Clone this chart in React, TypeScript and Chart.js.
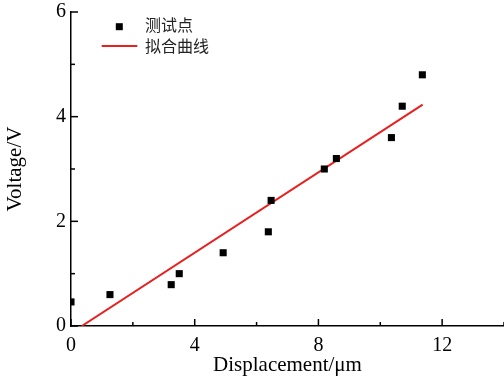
import React, { useEffect, useRef } from "react";
import { Chart, registerables } from "chart.js";

Chart.register(...registerables);

const measuredX = [0, 1.26, 3.24, 3.5, 4.92, 6.38, 6.47, 8.19, 8.58, 10.36, 10.71, 11.36];
const measuredY = [0.46, 0.6, 0.79, 1.0, 1.4, 1.8, 2.4, 3.0, 3.2, 3.6, 4.2, 4.8];
const fitX = [0.35, 11.37];
const fitY = [0, 4.23];
const legendLabels = ["测试点", "拟合曲线"];
const xTitle = "Displacement/μm";
const yTitle = "Voltage/V";

const SERIF = "'Liberation Serif', 'Times New Roman', serif";

const innerTicks = {
  id: "innerTicks",
  afterDraw(chart: any) {
    const { ctx, chartArea, scales } = chart;
    ctx.save();
    ctx.strokeStyle = "#000";
    ctx.lineWidth = 1.5;
    const xs = scales.x;
    for (let v = 0; v <= 14; v += 2) {
      const px = xs.getPixelForValue(v);
      const len = v % 4 === 0 ? 7 : 4;
      ctx.beginPath();
      ctx.moveTo(px, chartArea.bottom);
      ctx.lineTo(px, chartArea.bottom - len);
      ctx.stroke();
    }
    const ys = scales.y;
    for (let v = 0; v <= 6; v += 1) {
      const py = ys.getPixelForValue(v);
      const len = v % 2 === 0 ? 7 : 4;
      ctx.beginPath();
      ctx.moveTo(chartArea.left, py);
      ctx.lineTo(chartArea.left + len, py);
      ctx.stroke();
    }
    // legend
    ctx.fillStyle = "#000";
    ctx.fillRect(119.3 - 3.5, 26.7 - 3.5, 7, 7);
    ctx.strokeStyle = "#e8201f";
    ctx.lineWidth = 2;
    ctx.beginPath();
    ctx.moveTo(101.7, 46);
    ctx.lineTo(137.3, 46);
    ctx.stroke();
    ctx.fillStyle = "#222";
    ctx.font = "16px 'Noto Sans CJK SC'";
    ctx.textBaseline = "middle";
    ctx.textAlign = "left";
    ctx.fillText(legendLabels[0], 145, 25);
    ctx.fillText(legendLabels[1], 145, 46);
    ctx.restore();
  },
};

export default function App() {
  const ref = useRef<HTMLCanvasElement>(null);
  useEffect(() => {
    document.body.style.margin = "0";
    document.body.style.overflow = "hidden";
    const chart = new Chart(ref.current!, {
      type: "scatter",
      data: {
        datasets: [
          {
            label: legendLabels[0],
            data: measuredX.map((x, i) => ({ x, y: measuredY[i] })),
            pointStyle: "rect",
            pointRadius: 5,
            pointBorderWidth: 0,
            backgroundColor: "#000",
            borderColor: "#000",
          },
          {
            label: legendLabels[1],
            data: fitX.map((x, i) => ({ x, y: fitY[i] })),
            showLine: true,
            pointRadius: 0,
            borderColor: "#e8201f",
            borderWidth: 2,
          },
        ],
      },
      options: {
        animation: false,
        responsive: false,
        layout: { padding: { top: 12, right: 0, left: 0, bottom: 0 } },
        plugins: { legend: { display: false }, tooltip: { enabled: false } },
        scales: {
          x: {
            type: "linear",
            min: 0,
            max: 14,
            grid: { display: false, drawTicks: false },
            border: { display: true, color: "#000", width: 1.5 },
            ticks: {
              stepSize: 2,
              autoSkip: false,
              maxRotation: 0,
              padding: 8,
              color: "#000",
              font: { family: SERIF, size: 20 },
              callback: (v: any) => (v % 4 === 0 && v < 14 ? String(v) : ""),
            },
            title: {
              display: true,
              text: xTitle,
              color: "#000",
              font: { family: SERIF, size: 21 },
              padding: { top: 0, bottom: 3 },
            },
            afterFit: (s: any) => {
              s.height = 55;
              s.paddingLeft = 0;
              s.paddingRight = 0;
            },
          },
          y: {
            type: "linear",
            min: 0,
            max: 6,
            grid: { display: false, drawTicks: false },
            border: { display: true, color: "#000", width: 1.5 },
            ticks: {
              stepSize: 1,
              autoSkip: false,
              padding: 5,
              color: "#000",
              font: { family: SERIF, size: 20 },
              callback: (v: any) => (v % 2 === 0 ? String(v) : ""),
            },
            title: {
              display: true,
              text: yTitle,
              color: "#000",
              font: { family: SERIF, size: 21 },
              padding: { top: 3, bottom: 0 },
            },
            afterFit: (s: any) => {
              s.width = 71;
              s.paddingTop = 0;
              s.paddingBottom = 0;
            },
          },
        },
      },
      plugins: [innerTicks],
    });
    return () => chart.destroy();
  }, []);
  return (
    <div style={{ position: "absolute", left: 0, top: 0, width: 504, height: 381, overflow: "hidden" }}>
      <canvas ref={ref} width={509} height={381} style={{ display: "block" }} />
    </div>
  );
}
